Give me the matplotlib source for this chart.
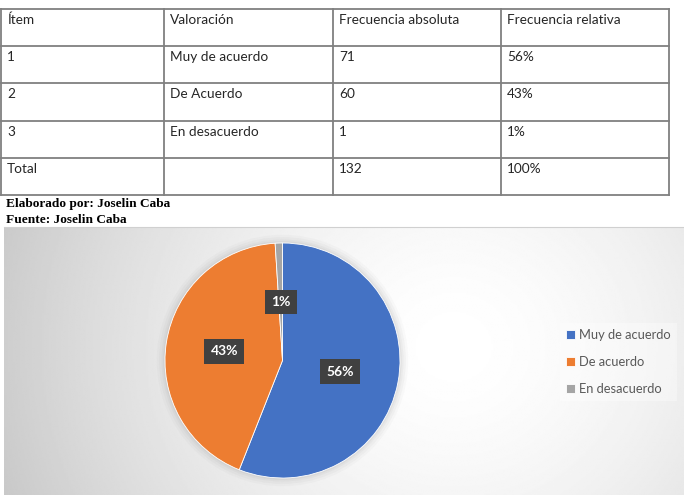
import numpy as np
import matplotlib
matplotlib.use('Agg')
import matplotlib.pyplot as plt

# ── datos de la tabla ─────────────────────────────
headers = ['Ítem', 'Valoración', 'Frecuencia absoluta', 'Frecuencia relativa']
items = ['1', '2', '3', 'Total']
valoracion = ['Muy de acuerdo', 'De Acuerdo', 'En desacuerdo', '']
freq_abs = [71, 60, 1, 132]
freq_rel = ['56%', '43%', '1%', '100%']

# ── datos del gráfico ─────────────────────────────
pie_labels = ['Muy de acuerdo', 'De acuerdo', 'En desacuerdo']
pie_pct = [56, 43, 1]
pie_colors = ['#4472C4', '#ED7D31', '#A5A5A5']

W, H = 684, 495


def fig_rect(x0, y0, x1, y1):
    """pixel box (top-left origin) -> figure fraction rect"""
    return [x0 / W, 1 - y1 / H, (x1 - x0) / W, (y1 - y0) / H]


fig = plt.figure(figsize=(W / 100, H / 100), dpi=100)
fig.patch.set_facecolor('white')

# ── tabla ─────────────────────────────────────────
tx0, ty0, tx1, ty1 = 1, 9, 669, 195
tab = fig.add_axes(fig_rect(tx0, ty0, tx1, ty1))
tab.set_xlim(0, tx1 - tx0)
tab.set_ylim(ty1 - ty0, 0)
tab.axis('off')

col_edges = [0, 163, 332, 500, 668]
row_edges = [0, 37, 74, 112, 149, 186]
line_kw = dict(color='#808080', lw=1.3, clip_on=False)
for y in row_edges:
    tab.plot([0, 668], [y, y], **line_kw)
for x in col_edges:
    tab.plot([x, x], [0, 186], **line_kw)

rows = [headers] + [[items[i], valoracion[i], str(freq_abs[i]), freq_rel[i]]
                    for i in range(len(items))]
cell_font = dict(family='Lato', fontsize=9.8, color='#262626', va='center', ha='left')
for r, row in enumerate(rows):
    for c, txt in enumerate(row):
        tab.text(col_edges[c] + 6, row_edges[r] + 11, txt, **cell_font)

src_font = dict(family='Liberation Serif', fontweight='bold', fontsize=9.6,
                color='black', va='center', ha='left')
fig.text(6 / W, 1 - 204 / H, 'Elaborado por: Joselin Caba', **src_font)
fig.text(6 / W, 1 - 220 / H, 'Fuente: Joselin Caba', **src_font)

# ── fondo del gráfico (degradado radial) ──────────
bx0, by0, bx1, by1 = 4, 227, 684, 495
bg = fig.add_axes(fig_rect(bx0, by0, bx1, by1))
gx, gy = np.meshgrid(np.linspace(0, bx1 - bx0, 400), np.linspace(0, by1 - by0, 200))
dist = np.hypot(gx - 450, (gy - 120) * 1.1) / 460
shade = 1 - 0.20 * np.clip(dist, 0, 1.1) ** 1.6
bg.imshow(shade, cmap='gray', vmin=0, vmax=1, aspect='auto',
          extent=[0, bx1 - bx0, by1 - by0, 0], interpolation='bilinear')
bg.set_xticks([]); bg.set_yticks([])
for s in bg.spines.values():
    s.set_visible(False)
bg.spines['top'].set_visible(True)
bg.spines['top'].set_color('#d0d0d0')

# ── pastel ────────────────────────────────────────
cx, cy, rad = 282.5, 360.5, 117.5
ax = fig.add_axes(fig_rect(cx - rad - 12, cy - rad - 12, cx + rad + 12, cy + rad + 12))
lim = (rad + 12) / rad
# halo suave alrededor del pastel
for k, a in zip([1.07, 1.05, 1.03, 1.015], [0.04, 0.05, 0.06, 0.08]):
    ax.add_patch(plt.Circle((0, 0), k, color='#808080', alpha=a, lw=0))
wedges, _, autotexts = ax.pie(
    pie_pct, colors=pie_colors, startangle=90, counterclock=False,
    autopct='%1.0f%%', pctdistance=0.5,
    wedgeprops=dict(edgecolor='white', linewidth=0.6))
ax.set_xlim(-lim, lim)
ax.set_ylim(-lim, lim)
ax.set_aspect('equal')
for t in autotexts:
    t.set_family('Lato')
    t.set_fontweight('bold')
    t.set_fontsize(10)
    t.set_color('white')
    t.set_bbox(dict(boxstyle='square,pad=0.45', fc='#404040', ec='none'))

leg = ax.legend(wedges, pie_labels, loc='upper left',
                bbox_to_anchor=(554 / W, 1 - 317 / H), bbox_transform=fig.transFigure,
                frameon=True, fancybox=False, framealpha=0.35, edgecolor='none',
                handlelength=0.7, handleheight=0.7, handletextpad=0.3,
                labelspacing=1.15, borderpad=0.45,
                prop=dict(family='Lato', size=9.3))
leg.get_frame().set_facecolor('white')
for t in leg.get_texts():
    t.set_color('#595959')

fig.savefig('out.png', dpi=100)
